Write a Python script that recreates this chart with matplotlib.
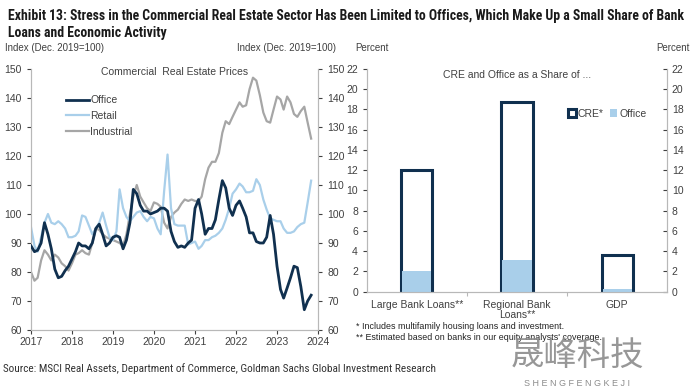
import matplotlib.pyplot as plt
import matplotlib.dates as mdates
import pandas as pd

# monthly index values, Jan 2017 - Nov 2023 (Dec. 2019 = 100)
months = pd.date_range("2017-01-01", periods=83, freq="MS")
office = [89, 87, 87.5, 90, 97, 93, 88, 81, 78, 78.5, 80.5, 82,
          84.5, 87, 90, 89, 89, 88, 90, 95, 96.5, 93, 89, 90,
          92, 92.5, 92, 88, 91, 97, 108.5, 107, 103, 101, 101, 100,
          100.5, 101, 102, 102, 101, 94, 90.5, 88.5, 89, 88.5, 90, 91,
          102, 105, 100, 93, 95, 95, 98, 105, 111.5, 109, 102, 99.5,
          103, 104.5, 102, 99, 93.5, 93.5, 90.5, 90, 90, 92, 99.5, 93,
          82, 74, 71, 74.5, 78, 82, 81.5, 75, 67, 70, 72]
retail = [95.5, 89, 87, 92, 97, 100, 97, 96.5, 97.5, 96.5, 95, 92,
          92, 92.5, 94, 99.5, 99, 96, 93, 95, 97, 100.5, 96, 92,
          91, 94, 108.5, 102, 99, 97.5, 99, 100.5, 101, 99, 97.5, 99,
          98.5, 95, 93, 108, 120.5, 102, 96.5, 96, 96, 96, 89.5, 90,
          90.5, 88, 89, 91, 91, 92, 92.5, 93.5, 95, 98, 102, 107,
          108.5, 110.5, 109.5, 107.5, 107.5, 108, 112, 110, 105, 101.5, 98.5, 98,
          97.5, 97.5, 95, 93.5, 93.5, 94, 95.5, 96.5, 97, 104, 111.5]
industrial = [80, 77, 78, 84, 87.5, 86, 84, 86, 85, 83, 82, 80.5,
              83, 86, 86.5, 87.5, 86.5, 86, 90, 95, 94.5, 93, 92, 91.5,
              91, 90.5, 90, 89, 93, 100, 106, 110, 106, 104, 102, 101,
              104, 103.5, 102.5, 97, 95, 99, 100.5, 101.5, 103.5, 105, 104.5, 105,
              104.5, 104.5, 106, 112, 116, 118, 118, 121, 128, 132, 131, 133.5,
              136, 138.5, 137, 137.5, 143, 147, 146, 141, 135, 132, 131.5, 136,
              140.5, 139.5, 136, 140.5, 138.5, 134.5, 133.5, 135.5, 137, 131.5, 126]

# CRE and office as a share of ... (percent)
categories = ["Large Bank Loans**", "Regional Bank\nLoans**", "GDP"]
cre_share = [12.0, 18.7, 3.6]
office_share = [2.0, 3.1, 0.3]

NAVY = "#10304f"
LIGHT = "#a9cfea"
GREY = "#a6a6a6"
SPINE = "#b8b8b8"
TXT = "#404040"

plt.rcParams["font.family"] = ["Liberation Sans", "DejaVu Sans"]

fig = plt.figure(figsize=(7, 3.88), dpi=100)


def fit_width(t, width_px):
    # scale a text's font size so it spans width_px pixels
    fig.canvas.draw()
    w = t.get_window_extent().width
    t.set_fontsize(t.get_fontsize() * width_px / w)


# ---- left panel: price indices
ax = fig.add_axes([31 / 700, 1 - 330 / 388, 287 / 700, 261 / 388])
ax2 = ax.twinx()
ax.plot(months, retail, color=LIGHT, lw=1.6, zorder=2)
ax2.plot(months, industrial, color=GREY, lw=1.6, zorder=1)
ax.plot(months, office, color=NAVY, lw=2.0, zorder=3)
ax.set_zorder(ax2.get_zorder() + 1)
ax.patch.set_visible(False)

for a in (ax, ax2):
    a.set_ylim(60, 150)
    a.set_yticks(range(60, 151, 10))
    a.set_xlim(pd.Timestamp("2017-01-01"), pd.Timestamp("2024-01-01"))
    a.tick_params(labelsize=7.5, colors=TXT, length=3, width=0.8)
    for s in a.spines.values():
        s.set_color(SPINE)
    a.spines["top"].set_visible(False)
ax.xaxis.set_major_locator(mdates.YearLocator())
ax.xaxis.set_major_formatter(mdates.DateFormatter("%Y"))
ax.tick_params(axis="x", labelsize=7.5, pad=2)

handles = [plt.Line2D([], [], color=NAVY, lw=2.0),
           plt.Line2D([], [], color=LIGHT, lw=1.6),
           plt.Line2D([], [], color=GREY, lw=1.6)]
ax.legend(handles, ["Office", "Retail", "Industrial"], loc="upper left",
          bbox_to_anchor=(0.09, 0.935), frameon=False, fontsize=7.5,
          handlelength=2.2, handletextpad=0.1, labelspacing=0.55,
          labelcolor=TXT)
ax.text(0.5, 0.988, "Commercial  Real Estate Prices", transform=ax.transAxes,
        ha="center", va="center", fontsize=7.5, color=TXT)

# ---- right panel: bars
bx = fig.add_axes([367 / 700, 1 - 291.7 / 388, 300 / 700, 222.7 / 388])
pos = range(len(categories))
bx.bar(pos, cre_share, width=0.31, facecolor="white", edgecolor=NAVY,
       linewidth=2.2, label="CRE*", zorder=2)
bx.bar(pos, office_share, width=0.29, color=LIGHT, label="Office", zorder=3)
bx.set_xlim(-0.5, 2.5)
bx.set_ylim(0, 22)
bx.set_yticks(range(0, 23, 2))
bx.set_xticks(list(pos))
bx.set_xticklabels(categories, linespacing=1.05)
bx.set_xticks([0.5, 1.5], minor=True)
bx.tick_params(axis="x", which="major", length=0, labelsize=7.5, colors=TXT, pad=6)
bx.tick_params(axis="x", which="minor", length=3, width=0.8, color=SPINE)
bx.tick_params(axis="y", labelsize=7.5, colors=TXT, length=3, width=0.8)
bx2 = bx.twinx()
bx2.set_ylim(0, 22)
bx2.set_yticks(range(0, 23, 2))
bx2.tick_params(axis="y", labelsize=7.5, colors=TXT, length=3, width=0.8,
                direction="in")
for a in (bx, bx2):
    for s in a.spines.values():
        s.set_color(SPINE)
    a.spines["top"].set_visible(False)
bx.text(0.5, 0.975, "CRE and Office as a Share of ...", transform=bx.transAxes,
        ha="center", va="center", fontsize=7.5, color=TXT)
bx.legend(loc="center left", bbox_to_anchor=(0.64, 0.80), ncol=2, frameon=False,
          fontsize=7.5, handlelength=0.7, handleheight=0.7, handletextpad=0.2,
          columnspacing=0.6, labelcolor=TXT)

# ---- header texts
cond = dict(family=["Roboto Condensed", "Roboto", "DejaVu Sans"])
t1 = fig.text(8 / 700, 1 - 20 / 388,
              "Exhibit 13: Stress in the Commercial Real Estate Sector Has Been Limited to Offices, Which Make Up a Small Share of Bank",
              fontsize=9, fontweight="bold", color="#1a1a1a", va="baseline", **cond)
fit_width(t1, 680)
fig.text(8 / 700, 1 - 37 / 388, "Loans and Economic Activity",
         fontsize=t1.get_fontsize(), fontweight="bold", color="#1a1a1a",
         va="baseline", **cond)
fig.text(5 / 700, 1 - 51 / 388, "Index (Dec. 2019=100)", fontsize=7, color=TXT, va="baseline")
fig.text(336 / 700, 1 - 51 / 388, "Index (Dec. 2019=100)", fontsize=7, color=TXT,
         va="baseline", ha="right")
fig.text(355 / 700, 1 - 51 / 388, "Percent", fontsize=7, color=TXT, va="baseline")
fig.text(690 / 700, 1 - 51 / 388, "Percent", fontsize=7, color=TXT, va="baseline", ha="right")

# ---- footnotes and source
fig.text(356 / 700, 1 - 329 / 388, "* Includes multifamily housing loans and investment.",
         fontsize=6.4, color="#222222", va="baseline")
fig.text(356 / 700, 1 - 340 / 388, "** Estimated based on banks in our equity analysts' coverage.",
         fontsize=6.4, color="#222222", va="baseline")
src = fig.text(3 / 700, 1 - 372 / 388,
               "Source: MSCI Real Assets, Department of Commerce, Goldman Sachs Global Investment Research",
               fontsize=8, color="#333333", va="baseline", **cond)
fit_width(src, 434)

# ---- watermark
fig.text(577 / 700, 1 - 355 / 388, "晟峰科技", fontsize=24, color="#8c8c8c", ha="center",
         va="center", family=["Noto Sans CJK SC", "DejaVu Sans"], alpha=0.9)
fig.text(577 / 700, 1 - 383 / 388, "S H E N G F E N G K E J I", fontsize=6.5,
         color="#8c8c8c", ha="center", va="center")

fig.savefig("out.png", dpi=100)
